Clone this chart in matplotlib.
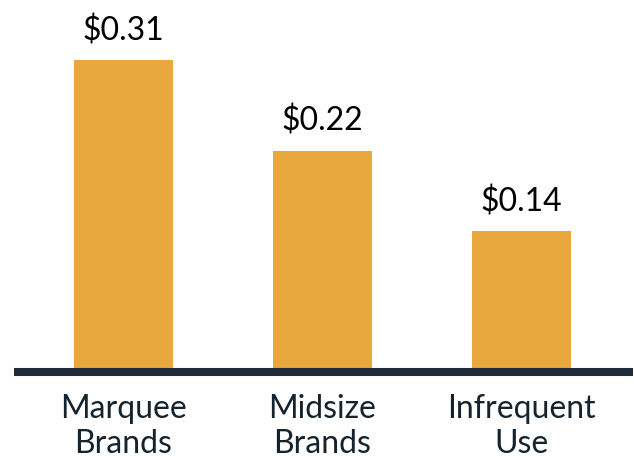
import matplotlib.pyplot as plt

categories = ["Marquee\nBrands", "Midsize\nBrands", "Infrequent\nUse"]
values = [0.31, 0.22, 0.14]
value_labels = ["$0.31", "$0.22", "$0.14"]

plt.rcParams['font.family'] = ['Lato', 'DejaVu Sans']

fig = plt.figure(figsize=(6.34, 4.59), dpi=100)
ax = fig.add_axes([14 / 634, (459 - 372) / 459, 619 / 634, 372 / 459])

x = range(len(categories))
ax.bar(x, values, width=0.5, color="#E8A83E", zorder=1)
ax.axhline(0, color="#1F2A3A", linewidth=5.8, zorder=3, clip_on=False,
           solid_capstyle="butt")

for xi, v, lab in zip(x, values, value_labels):
    ax.annotate(lab, (xi, v), xytext=(0, 10), textcoords="offset points",
                ha="center", va="bottom", fontsize=23, color="black")

ax.set_xticks(list(x))
ax.set_xticklabels(categories, fontsize=23, color="#14232E", linespacing=1.2)
ax.tick_params(axis="x", length=0, pad=16)
ax.set_yticks([])
ax.set_xlim(-0.550, 2.560)
ax.set_ylim(0, 0.37)
for s in ax.spines.values():
    s.set_visible(False)

fig.savefig("out.png", dpi=100)
